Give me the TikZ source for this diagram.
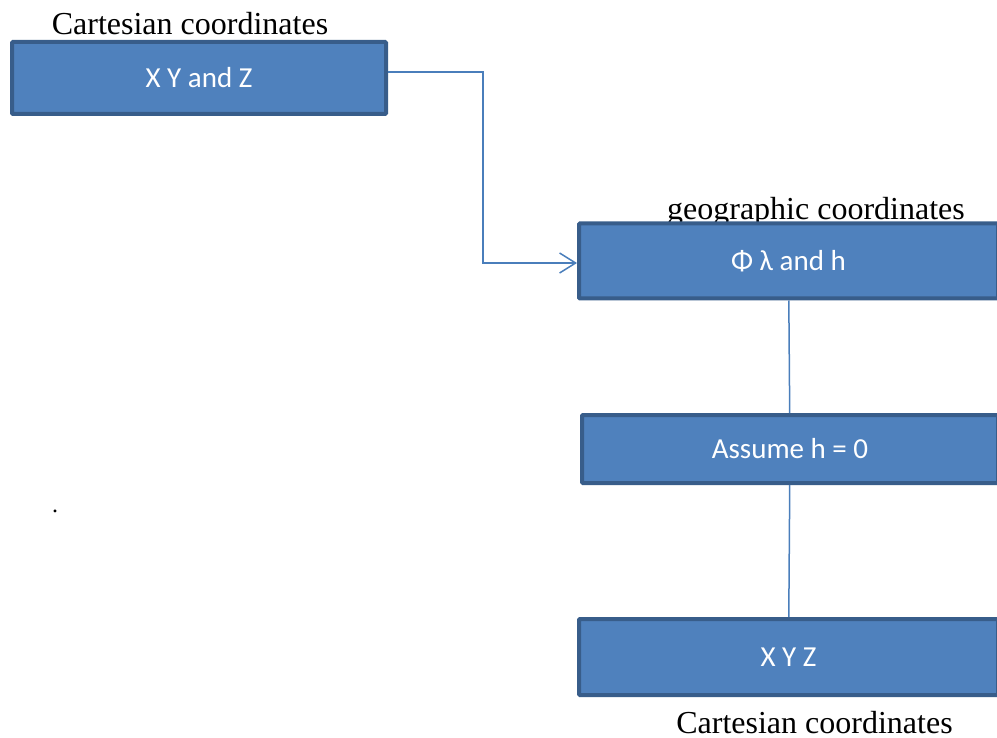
\documentclass[tikz,border=0pt]{standalone}
\usepackage{fontspec}
\setmainfont{Liberation Serif}
\newfontfamily\boxfont{Carlito}
\usetikzlibrary{arrows.meta, positioning, calc}

\definecolor{boxfill}{HTML}{4F81BD}
\definecolor{boxline}{HTML}{385D8A}
\definecolor{linkline}{HTML}{4A7EBB}

\begin{document}
\begin{tikzpicture}[
  x=1pt, y=-1pt,
  stage/.style={draw=boxline, fill=boxfill, line width=4pt, rounded corners=1pt,
    text=white, font=\boxfont\fontsize{29}{34}\selectfont, inner sep=0pt},
  caption/.style={anchor=base, font=\fontsize{32}{38}\selectfont, inner sep=0pt},
  link/.style={draw=linkline, line width=1.5pt}
]
\useasboundingbox (0,0) rectangle (997,738);

% labels (the middle one sits under its box)
\node[caption] (captop) at (190,35) {Cartesian coordinates};
\node[caption] (capgeo) at (816,220) {geographic coordinates};
\node[caption] (capbot) at (814.5,733) {Cartesian coordinates};

\node[stage, minimum width=374pt, minimum height=72pt] (xyz) at (199,78) {X Y and Z};
\node[stage, minimum width=419pt, minimum height=75pt] (geo) at (788.5,261) {Φ λ and h};
\node[stage, minimum width=416pt, minimum height=68pt] (hzero) at (790,449) {Assume h = 0};
\node[stage, minimum width=419pt, minimum height=76pt] (xyzout) at (788.5,657) {X Y Z};

\node[font=\fontsize{24}{28}\selectfont, inner sep=0pt] (dot) at (55,511) {.};

\coordinate (elbow) at (483,170);

\draw[link, -{Straight Barb[length=16pt, width=20pt, line width=1.5pt]}]
  ([yshift=6pt]xyz.east) -| (elbow) |- ([yshift=-2pt]geo.west);
\draw[link] (geo) -- (hzero);
\draw[link] (hzero) -- (xyzout);

\end{tikzpicture}
\end{document}
